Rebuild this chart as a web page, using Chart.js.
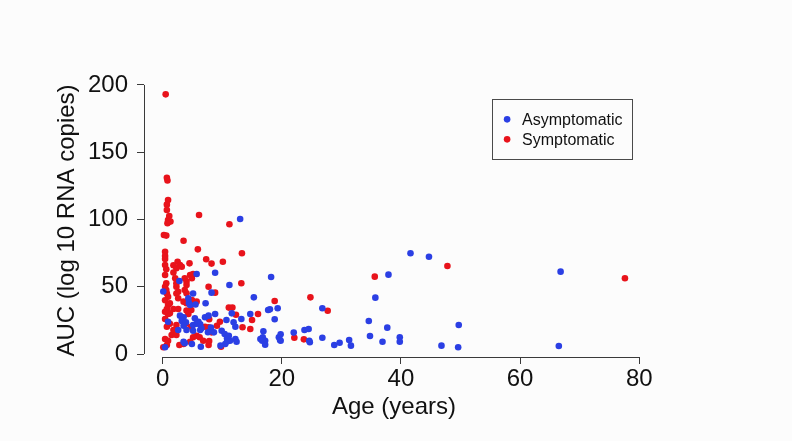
<!DOCTYPE html>
<html>
<head>
<meta charset="utf-8">
<script src="https://cdn.jsdelivr.net/npm/chart.js@4/dist/chart.umd.min.js"></script>
<style>
html,body{margin:0;padding:0;background:#fcfcfc;}
canvas{display:block;}
</style>
</head>
<body>
<canvas id="c" width="792" height="441"></canvas>
<script>
// ---- data ----
const seriesNames = ["Asymptomatic", "Symptomatic"];
const xTicks = [0, 20, 40, 60, 80];
const yTicks = [0, 50, 100, 150, 200];

const asymptomaticAge = [13.0,8.8,5.7,11.2,18.2,2.8,0.1,4.3,5.1,8.2,15.3,4.4,4.6,5.5,7.2,19.3,18.0,17.7,18.8,8.8,14.7,11.6,10.7,13.2,11.9,12.2,8.6,9.9,10.4,11.1,11.3,10.8,12.2,10.5,9.7,16.9,16.4,16.8,17.2,16.7,17.2,19.5,19.7,19.8,19.8,22.0,23.8,24.5,24.7,24.6,26.8,26.8,28.8,29.7,31.3,31.6,34.6,34.8,35.7,37.9,37.7,36.9,39.8,39.8,41.6,44.7,46.8,49.6,49.7,66.8,66.5,2.9,3.5,5.4,6.0,5.7,7.1,7.7,0.9,3.2,3.9,3.5,5.1,6.3,8.1,7.6,5.1,6.3,6.5,2.6,4.0,0.4,3.7,4.9,6.4,3.5,12.4,10.8];
const asymptomaticAUC = [100.4,60.4,59.5,51.3,57.2,54.3,46.5,41.4,45,45.6,42.1,38,36.4,36.8,37.7,34,33.2,32.7,25.8,29.7,29.7,30.2,25.3,26,23.6,20.3,16.1,17.3,14.9,13.6,9.9,11.7,11.2,7.4,6.2,16.9,11.2,12.4,9.9,9.9,6.9,12.4,10.4,14.6,9.9,15.9,17.8,18.6,8.7,9.9,34,12.1,6.7,8.4,10.4,6.2,24.5,13.4,41.9,59,19.6,9.1,12.4,9.1,74.9,72.3,6.2,5,21.6,61.2,5.9,28.5,27.3,26.5,24,22.5,27.3,28.5,24,24.6,23.6,21,21.6,22,19.6,16.2,17.3,17.8,19.1,17.8,17.8,5,8,7.4,5.4,9.1,9.1,9.3];

const symptomaticAge = [0.5,0.7,0.8,0.9,0.7,0.7,1.1,0.9,1.3,0.8,6.1,11.2,0.2,0.6,3.5,5.9,0.4,13.3,7.3,8.2,10.1,4.5,2.5,2.9,0.4,0.4,0.4,1.8,3.2,2.3,0.6,1.8,0.4,4.6,4.9,5.1,3.7,4.0,2.1,7.7,13.2,8.8,0.4,0.6,0.6,2.3,2.6,2.3,3.7,4.0,4.0,0.7,0.9,2.3,2.6,0.4,3.5,4.0,0.9,1.2,4.9,5.7,18.8,11.1,11.7,12.3,16.0,15.0,9.1,13.4,14.7,9.8,7.8,9.6,7.7,8.2,0.7,0.9,0.4,1.8,2.6,4.0,4.8,4.3,1.2,1.8,1.5,2.3,3.9,4.8,5.7,6.2,5.1,0.4,0.9,0.1,3.5,2.8,0.7,6.8,7.7,7.8,4.6,0.7,2.3,7.1,22.1,23.7,24.8,27.7,35.6,47.8,77.6,1.2,0.4];
const symptomaticAUC = [193,131,129,114.5,111,107,102.6,99.6,98.4,97.2,103.3,96.4,88.5,88,84.2,77.8,76,74.9,70.4,67.2,68.6,67.4,68.6,66.2,72.9,70.6,66.2,66,64.9,63.7,63,60.5,58.7,58.7,56.3,59.5,56.3,53.8,56.3,50,52.6,45.6,50,47.6,52.5,50,46.3,52.5,47.6,45.1,51.3,45,42.6,45,41.4,40,38.9,37.7,36.4,37.7,40.1,38.9,39.4,34.5,34.5,29.2,29.7,25.3,21,19.9,18.6,5.4,25.8,24,19.8,16.1,33.5,29.7,26,33.5,33.5,32.3,32.7,29.7,22.5,17.8,14.1,14.1,22.5,20.3,13.6,12.4,12.4,11.2,9.9,5,7.4,6.7,6.7,9.9,6.7,9.7,9.1,20.3,21.6,20.3,12.1,10.9,42.1,32.2,57.5,65.4,56.3,30.2,31.4];

const seriesColors = ["#2b3fe4", "#e8131b"];

// ---- build ----
function pts(xs, ys){ return xs.map((x,i)=>({x:x, y:ys[i]})); }

const FONT = "'Liberation Sans', Arial, sans-serif";
const AXIS_COLOR = "#3a3a3a";

const bgPlugin = {
  id: 'bg',
  beforeDraw(chart){
    const ctx = chart.ctx;
    ctx.save();
    ctx.fillStyle = '#fcfcfc';
    ctx.fillRect(0,0,chart.width,chart.height);
    ctx.restore();
  }
};

const axisLinePlugin = {
  id: 'axisLines',
  afterDraw(chart){
    const ctx = chart.ctx, xs = chart.scales.x, ys = chart.scales.y, ca = chart.chartArea;
    ctx.save();
    ctx.strokeStyle = AXIS_COLOR;
    ctx.lineWidth = 1;
    ctx.beginPath();
    const lx = Math.round(ca.left) + 0.5;
    ctx.moveTo(lx, ys.getPixelForValue(yTicks[0]));
    ctx.lineTo(lx, ys.getPixelForValue(yTicks[yTicks.length-1]));
    const by = Math.round(ca.bottom) + 0.5;
    ctx.moveTo(xs.getPixelForValue(xTicks[0]), by);
    ctx.lineTo(xs.getPixelForValue(xTicks[xTicks.length-1]), by);
    ctx.stroke();
    ctx.restore();
  }
};

const legendPlugin = {
  id: 'boxLegend',
  afterDraw(chart){
    const ctx = chart.ctx;
    const xs = chart.scales.x, ys = chart.scales.y;
    const bx = xs.getPixelForValue(55.3), byTop = ys.getPixelForValue(189.3);
    const bw = 140, bh = 60;
    ctx.save();
    ctx.strokeStyle = '#4a4a4a';
    ctx.lineWidth = 1;
    ctx.strokeRect(Math.round(bx)+0.5, Math.round(byTop)+0.5, bw, bh);
    ctx.font = "16px " + FONT;
    ctx.textBaseline = 'middle';
    ctx.textAlign = 'left';
    chart.data.datasets.forEach((ds, i) => {
      const cy = byTop + 20 + i*20;
      ctx.fillStyle = ds.backgroundColor;
      ctx.beginPath();
      ctx.arc(bx + 15, cy, 3.3, 0, Math.PI*2);
      ctx.fill();
      ctx.fillStyle = '#111';
      ctx.fillText(ds.label, bx + 30, cy + 1);
    });
    ctx.restore();
  }
};

new Chart(document.getElementById('c'), {
  type: 'scatter',
  data: {
    datasets: [
      { label: seriesNames[0], data: pts(asymptomaticAge, asymptomaticAUC), backgroundColor: seriesColors[0], borderWidth: 0, pointRadius: 3.3, pointHoverRadius: 3.3 },
      { label: seriesNames[1], data: pts(symptomaticAge, symptomaticAUC), backgroundColor: seriesColors[1], borderWidth: 0, pointRadius: 3.3, pointHoverRadius: 3.3 }
    ]
  },
  options: {
    responsive: false,
    devicePixelRatio: 1,
    animation: false,
    events: [],
    layout: { padding: { top: 84, right: 148, left: 0, bottom: 0 } },
    plugins: { legend: { display: false }, tooltip: { enabled: false } },
    scales: {
      x: {
        type: 'linear',
        min: -3.14, max: 80.8,
        afterBuildTicks(s){ s.ticks = xTicks.map(v=>({value:v})); },
        afterFit(s){ s.height = 84; },
        border: { display: false },
        grid: { drawOnChartArea: false, drawTicks: true, tickLength: 7, color: AXIS_COLOR, tickColor: AXIS_COLOR },
        ticks: { font: { family: FONT, size: 24 }, color: '#111', padding: 1, maxRotation: 0, autoSkip: false },
        title: { display: true, text: 'Age (years)', font: { family: FONT, size: 24 }, color: '#111', padding: { top: 0, bottom: 19 } }
      },
      y: {
        type: 'linear',
        min: -2.23, max: 200.7,
        afterBuildTicks(s){ s.ticks = yTicks.map(v=>({value:v})); },
        afterFit(s){ s.width = 144; },
        border: { display: false },
        grid: { drawOnChartArea: false, drawTicks: true, tickLength: 7, color: AXIS_COLOR, tickColor: AXIS_COLOR },
        ticks: { font: { family: FONT, size: 24 }, color: '#111', padding: 9, autoSkip: false },
        title: { display: true, text: 'AUC (log 10 RNA copies)', font: { family: FONT, size: 24 }, color: '#111', padding: { top: 53, bottom: 0 } }
      }
    }
  },
  plugins: [bgPlugin, axisLinePlugin, legendPlugin]
});
</script>
</body>
</html>
